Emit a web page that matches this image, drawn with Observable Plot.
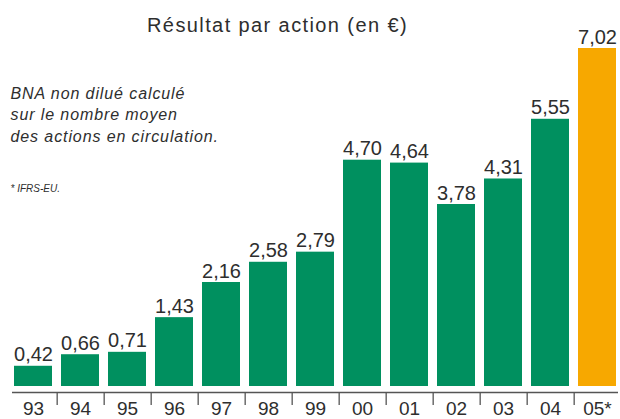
<!DOCTYPE html>
<html>
<head>
<meta charset="utf-8">
<script src="https://cdn.jsdelivr.net/npm/d3@7"></script>
<script src="https://cdn.jsdelivr.net/npm/@observablehq/plot@0.6"></script>
<style>
  html, body { margin: 0; padding: 0; background: #fff; }
  svg { display: block; }
</style>
</head>
<body>
<div id="chart"></div>
<script>
const years = ["93","94","95","96","97","98","99","00","01","02","03","04","05*"];
const values = [0.42,0.66,0.71,1.43,2.16,2.58,2.79,4.70,4.64,3.78,4.31,5.55,7.02];
const highlight = ["05*"];
const title = "Résultat par action (en €)";
const noteLines = ["BNA non dilué calculé", "sur le nombre moyen", "des actions en circulation."];
const footnote = "* IFRS-EU.";

const data = years.map((y, i) => ({year: y, value: values[i], hi: highlight.includes(y)}));
const fmt = v => v.toFixed(2).replace(".", ",");
const font = "Liberation Sans, Arial, sans-serif";
const green = "#00905f";
const orange = "#f7a800";
const textColor = "#2e2e2e";

const xScale = d3.scaleBand().domain(years).range([12, 618]).paddingInner(0.2);
const step = xScale.step();

const chart = Plot.plot({
  width: 620,
  height: 419,
  marginTop: 0, marginBottom: 0, marginLeft: 12, marginRight: 2,
  style: {fontFamily: font, background: "#fff"},
  x: {type: "band", domain: years, range: [12, 618], paddingInner: 0.2, paddingOuter: 0, axis: null},
  y: {domain: [0, 7.02], range: [386, 48], axis: null},
  marks: [
    Plot.barY(data, {x: "year", y: "value", fill: d => d.hi ? orange : green}),
    Plot.text(data, {x: "year", y: "value", text: d => fmt(d.value), dy: -5, lineAnchor: "bottom", fontSize: 20, fill: textColor}),
    Plot.ruleY([-0.125], {stroke: "#555", strokeWidth: 1.3}),
    Plot.ruleX(years.slice(0, -1), {x: d => d, dx: step / 2, y1: -0.125, y2: -0.395, stroke: "#555", strokeWidth: 1.3}),
    Plot.text(data, {x: "year", frameAnchor: "bottom", dy: -5, text: "year", lineAnchor: "bottom", fontSize: 19, fill: textColor}),
    Plot.text([title], {frameAnchor: "top", text: d => d, dx: -38, dy: 17, fontSize: 20, fill: textColor, lineAnchor: "top"}),
    Plot.text([noteLines.join("\n")], {frameAnchor: "top-left", text: d => d, dx: -2, dy: 83, fontSize: 16, fontStyle: "italic", fill: textColor, textAnchor: "start", lineAnchor: "top", lineHeight: 1.34}),
    Plot.text([footnote], {frameAnchor: "top-left", text: d => d, dx: -2, dy: 184, fontSize: 10, fontStyle: "italic", fill: textColor, textAnchor: "start", lineAnchor: "top"})
  ]
});

// widen the light extended lettering of the title and the note
chart.querySelectorAll("text").forEach(t => {
  const s = t.textContent;
  if (s === title) t.setAttribute("letter-spacing", "1.4");
  else if (s.startsWith(noteLines[0])) t.setAttribute("letter-spacing", "0.9");
});
document.getElementById("chart").appendChild(chart);
</script>
</body>
</html>
